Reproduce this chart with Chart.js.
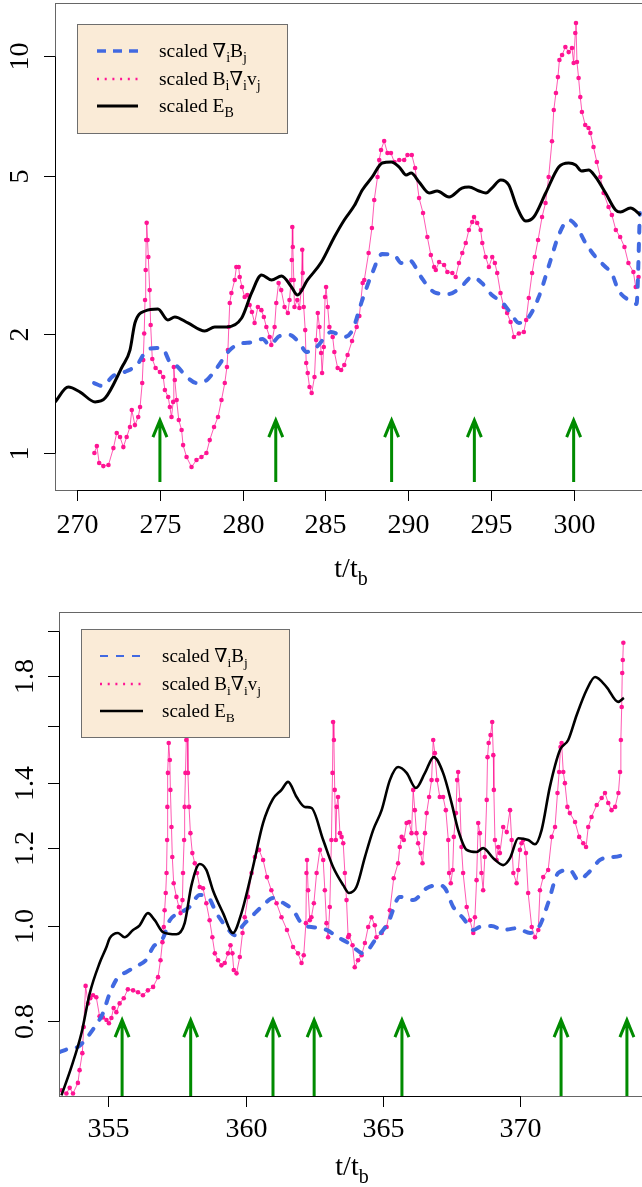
<!DOCTYPE html>
<html>
<head>
<meta charset="utf-8">
<script src="https://cdn.jsdelivr.net/npm/chart.js@4.4.0/dist/chart.umd.min.js"></script>
<style>
  body { margin: 0; background: #fff; width: 642px; height: 1187px; overflow: hidden; position: relative; }
  .panel { position: absolute; left: 0; width: 642px; }
</style>
</head>
<body>
<div class="panel" style="top:0;height:595px"><canvas id="topChart" width="642" height="595"></canvas></div>
<div class="panel" style="top:595px;height:592px"><canvas id="bottomChart" width="642" height="592"></canvas></div>
<script>
// ---- top panel data (t/t_b, scaled quantities, log axis) ----
const topXTicks = [270, 275, 280, 285, 290, 295, 300];
const topYTicks = [1, 2, 5, 10];
const topYLabels = ['1', '2', '5', '10'];
const topArrowTimes = [275, 282, 289, 294, 300];
const topArrowBase = 0.845;
const topArrowTip = 1.21;

const tTopEB = [268.67,269.46,270.18,271.08,271.69,272.71,273.19,273.49,274.10,274.88,275.48,275.90,276.69,277.71,278.31,279.04,279.94,280.54,281.14,281.75,282.35,282.95,283.31,283.92,284.76,285.54,286.14,286.75,287.23,287.83,288.43,288.98,289.46,289.88,290.18,290.66,291.27,291.75,292.47,293.25,293.67,294.28,294.70,295.06,295.60,296.08,296.57,297.11,297.59,298.31,299.10,299.70,300.12,300.48,300.90,301.33,301.93,302.53,302.83,303.43,304.04];
const topEB = [1.345,1.466,1.424,1.345,1.375,1.647,1.817,2.126,2.279,2.305,2.163,2.201,2.126,2.029,2.077,2.077,2.188,2.53,2.808,2.728,2.792,2.619,2.50,2.728,3.027,3.50,3.864,4.2,4.597,4.958,5.377,5.408,5.253,5.014,5.073,4.815,4.518,4.571,4.414,4.650,4.677,4.571,4.518,4.650,4.872,4.733,4.166,3.84,3.93,4.518,5.253,5.377,5.315,5.132,5.163,4.958,4.518,4.094,4.046,4.14,3.977];

const tTopGrad = [271.02,271.51,272.17,273.01,273.61,274.22,274.82,275.18,275.60,276.02,276.63,277.23,277.83,278.43,279.22,279.82,280.60,281.20,281.63,282.23,282.83,283.43,283.86,284.46,285.36,286.14,286.63,287.23,287.83,288.43,289.16,289.58,290.06,290.78,291.27,291.69,292.47,293.19,293.86,294.46,295.06,295.66,296.20,296.69,297.29,297.89,298.61,299.10,299.70,300.12,300.72,301.33,301.93,302.29,302.71,303.31,303.80,304.0];
const topGrad = [1.501,1.475,1.563,1.609,1.666,1.817,1.839,1.828,1.695,1.656,1.554,1.501,1.527,1.637,1.817,1.882,1.904,1.937,1.871,1.971,1.983,1.893,1.797,1.849,2.018,1.96,2.04,2.43,2.841,3.171,3.153,3.01,3.063,2.776,2.604,2.53,2.515,2.619,2.776,2.68,2.50,2.401,2.252,2.126,2.201,2.471,3.063,3.541,3.864,3.752,3.381,3.117,2.941,2.841,2.57,2.43,2.373,4.023];

const tTopBgv = [
  271.04,271.19,271.33,271.58,271.89,272.19,272.39,272.59,272.79,272.99,
  273.19,273.30,273.49,273.69,273.80,273.93,273.99,274.05,274.10,274.14,
  274.17,274.20,274.25,274.30,274.38,274.44,274.54,274.74,275.00,275.20,
  275.30,275.50,275.60,275.70,275.80,275.84,275.90,276.01,276.14,276.31,
  276.40,276.61,276.91,277.21,277.51,277.81,278.01,278.27,278.51,278.72,
  278.92,279.05,279.11,279.16,279.22,279.32,279.52,279.62,279.76,279.82,
  279.96,280.12,280.28,280.42,280.56,280.72,280.92,281.13,281.28,281.43,
  281.63,281.73,281.93,282.03,282.17,282.33,282.53,282.73,282.83,282.93,
  282.97,283.00,283.03,283.09,283.13,283.30,283.43,283.54,283.60,283.63,
  283.69,283.78,283.84,283.93,284.04,284.17,284.34,284.44,284.54,284.64,
  284.74,284.80,284.90,284.98,285.04,285.14,285.24,285.44,285.54,285.74,
  285.95,286.14,286.34,286.61,286.89,287.05,287.25,287.35,287.61,287.81,
  287.95,288.15,288.25,288.36,288.55,288.75,288.96,289.16,289.46,289.76,
  289.96,290.22,290.42,290.66,290.90,291.16,291.37,291.57,291.67,291.87,
  292.17,292.37,292.67,292.87,293.07,293.27,293.48,293.67,293.87,293.98,
  294.17,294.38,294.48,294.68,294.88,295.08,295.24,295.38,295.58,295.78,
  295.98,296.19,296.39,296.69,296.99,297.13,297.29,297.49,297.65,297.85,
  298.09,298.30,298.49,298.69,298.80,298.93,299.05,299.14,299.30,299.50,
  299.70,299.90,300.00,300.10,300.14,300.20,300.30,300.40,300.50,300.70,
  300.90,301.01,301.20,301.40,301.61,301.81,302.11,302.31,302.55,302.81,
  303.07,303.31,303.61,303.75,303.92];
const topBgv = [
  1.00,1.041,0.944,0.927,0.933,1.029,1.123,1.097,1.035,1.097,
  1.163,1.283,1.176,1.232,1.306,1.501,1.715,2.0,2.429,2.891,
  3.44,3.80,3.44,3.117,2.573,2.101,1.725,1.637,1.60,1.554,
  1.441,1.384,1.306,1.232,1.345,1.647,1.527,1.36,1.211,1.143,
  1.047,0.977,0.922,0.960,0.977,1.0,1.078,1.163,1.232,1.36,
  1.501,1.647,1.817,2.077,2.387,2.53,2.728,2.941,2.941,2.776,
  2.619,2.471,2.50,2.36,2.266,2.126,2.332,2.29,2.201,2.077,
  1.96,1.871,2.077,2.387,2.68,2.573,2.332,2.252,2.429,2.728,
  3.063,3.71,3.304,2.728,2.332,2.429,2.318,2.573,3.25,2.841,
  2.332,2.04,1.686,1.59,1.466,1.416,1.554,1.926,2.252,2.077,
  1.786,1.59,1.849,2.471,2.619,2.332,2.077,1.96,1.797,1.637,
  1.618,1.666,1.766,1.915,2.077,2.214,2.68,2.728,3.19,3.688,
  4.339,4.958,5.47,5.8,6.108,5.698,5.698,5.408,5.47,5.47,
  5.631,5.631,5.224,4.389,4.023,3.50,3.153,2.941,2.891,3.027,
  2.975,2.857,2.841,2.776,3.01,3.19,3.381,3.645,3.819,3.93,
  3.796,3.645,3.381,3.117,2.941,3.117,3.01,2.841,2.53,2.332,
  2.252,2.138,1.96,2.0,2.018,2.163,2.457,2.841,3.117,3.44,
  3.93,4.264,4.958,6.1,7.31,8.07,8.85,9.77,10.06,10.54,
  10.23,10.48,9.60,11.43,12.11,9.66,8.80,7.88,7.23,6.70,
  6.586,6.40,5.90,5.408,4.958,4.518,4.166,3.977,3.645,3.50,
  3.304,3.01,2.857,2.619,2.776];

// ---- bottom panel data ----
const bottomXTicks = [355, 360, 365, 370];
const bottomYTicks = [0.8, 1.0, 1.2, 1.4, 1.6, 1.8, 2.0];
const bottomYLabels = ['0.8', '1.0', '1.2', '1.4', '', '1.8', ''];
const bottomArrowTimes = [355.5, 358.0, 361.0, 362.5, 365.7, 371.5, 373.9];
const bottomArrowBase = 0.671;
const bottomArrowTip = 0.802;

const tBotEB = [353.29,353.65,354.02,354.32,354.68,354.93,355.05,355.35,355.59,355.90,356.14,356.44,356.69,356.99,357.48,357.78,358.03,358.33,358.57,358.81,359.18,359.54,359.85,360.27,360.64,361.0,361.31,361.55,361.86,362.16,362.40,362.83,363.19,363.56,363.77,364.04,364.35,364.65,364.96,365.26,365.56,365.87,366.21,366.54,366.86,367.20,367.51,367.75,368.06,368.42,368.66,369.03,369.39,369.64,369.94,370.30,370.55,370.79,371.09,371.46,371.76,372.07,372.43,372.74,373.16,373.58,373.79];
const botEB = [0.672,0.718,0.778,0.854,0.917,0.952,0.972,0.984,0.974,0.991,1.002,1.031,1.014,0.986,0.981,1.007,1.101,1.157,1.141,1.088,1.031,0.984,1.031,1.149,1.274,1.348,1.377,1.403,1.354,1.323,1.32,1.224,1.149,1.101,1.081,1.096,1.176,1.253,1.313,1.409,1.453,1.433,1.383,1.433,1.487,1.433,1.335,1.253,1.196,1.190,1.201,1.173,1.154,1.173,1.229,1.224,1.212,1.253,1.386,1.512,1.548,1.642,1.741,1.795,1.753,1.693,1.709];

const tBotGrad = [353.22,353.65,353.89,354.14,354.50,354.80,355.05,355.35,355.66,356.02,356.39,356.63,356.99,357.24,357.60,357.96,358.33,358.63,358.94,359.30,359.61,359.91,360.27,360.64,361.0,361.37,361.73,362.10,362.40,362.95,363.37,363.74,363.92,364.29,364.77,365.20,365.62,366.11,366.60,367.02,367.27,367.57,367.93,368.30,368.54,368.97,369.39,369.88,370.37,370.73,371.03,371.40,371.82,372.13,372.49,372.92,373.28,373.71,373.79];
const botGrad = [0.744,0.751,0.753,0.765,0.789,0.815,0.854,0.887,0.898,0.910,0.925,0.952,0.972,1.014,1.031,1.046,1.076,1.071,1.031,0.998,0.979,1.002,1.026,1.05,1.068,1.056,1.038,1.002,0.998,0.991,0.974,0.961,0.952,0.938,0.972,1.009,1.071,1.063,1.093,1.101,1.093,1.046,1.019,0.991,0.998,1.0,0.991,0.995,0.984,1.002,1.056,1.133,1.141,1.114,1.133,1.168,1.176,1.181,1.201];

const tBotBgv = [
  353.29,353.47,353.59,353.71,353.89,353.95,354.05,354.10,354.17,354.26,
  354.34,354.44,354.56,354.68,354.80,354.93,355.02,355.11,355.19,355.29,
  355.41,355.56,355.71,355.90,356.08,356.26,356.44,356.63,356.81,356.90,
  356.97,357.02,357.05,357.09,357.12,357.14,357.15,357.17,357.20,357.24,
  357.26,357.30,357.33,357.38,357.48,357.57,357.63,357.70,357.72,357.76,
  357.78,357.81,357.84,357.87,357.90,357.94,357.99,358.06,358.15,358.23,
  358.33,358.45,358.57,358.69,358.79,358.88,359.00,359.12,359.24,359.36,
  359.45,359.52,359.57,359.67,359.79,359.89,359.97,360.09,360.22,360.34,
  360.49,360.64,360.78,360.94,361.13,361.31,361.51,361.73,361.91,362.04,
  362.12,362.20,362.22,362.24,362.28,362.34,362.40,362.49,362.59,362.71,
  362.83,362.89,362.95,363.01,363.07,363.13,363.17,363.19,363.22,363.25,
  363.29,363.32,363.37,363.44,363.50,363.56,363.62,363.68,363.74,363.77,
  363.90,363.98,364.10,364.23,364.35,364.47,364.59,364.71,364.77,364.96,
  365.14,365.26,365.40,365.56,365.62,365.69,365.77,365.87,365.96,366.05,
  366.11,366.17,366.23,366.29,366.38,366.45,366.54,366.60,366.69,366.78,
  366.84,366.90,366.98,367.08,367.20,367.30,367.39,367.42,367.48,367.55,
  367.59,367.67,367.71,367.75,367.81,367.87,367.93,368.06,368.18,368.30,
  368.36,368.42,368.48,368.54,368.60,368.66,368.72,368.79,368.82,368.86,
  368.93,368.99,369.03,369.05,369.09,369.15,369.21,369.27,369.39,369.52,
  369.64,369.70,369.76,369.88,369.94,370.00,370.06,370.12,370.22,370.30,
  370.43,370.55,370.67,370.73,370.85,371.03,371.16,371.28,371.37,371.43,
  371.48,371.52,371.58,371.64,371.73,371.82,372.01,372.16,372.31,372.41,
  372.49,372.61,372.80,372.98,373.10,373.22,373.34,373.47,373.59,373.65,
  373.68,373.71,373.73,373.75,373.77];
const botBgv = [
  0.680,0.675,0.684,0.675,0.692,0.713,0.742,0.789,0.869,0.834,
  0.844,0.850,0.846,0.809,0.807,0.802,0.796,0.806,0.825,0.817,
  0.834,0.844,0.862,0.860,0.856,0.850,0.860,0.867,0.887,0.923,
  0.963,0.998,1.038,1.081,1.133,1.224,1.323,1.433,1.537,1.477,
  1.377,1.262,1.176,1.106,1.071,1.046,1.031,1.063,1.133,1.224,
  1.323,1.433,1.548,1.63,1.433,1.323,1.244,1.187,1.159,1.133,
  1.096,1.093,1.055,1.014,0.974,0.938,0.923,0.912,0.917,0.938,
  0.956,0.938,0.902,0.895,0.930,0.984,1.021,1.071,1.133,1.176,
  1.196,1.168,1.122,1.088,1.055,1.021,0.991,0.952,0.938,0.917,
  0.934,1.007,1.133,1.168,1.088,1.014,1.021,1.055,1.133,1.196,
  1.168,1.088,1.007,0.974,1.046,1.224,1.433,1.615,1.548,1.377,
  1.224,1.323,1.354,1.244,1.233,1.215,1.133,1.063,0.974,0.979,
  0.956,0.908,0.923,0.934,0.961,0.998,1.021,1.002,0.974,0.984,
  0.998,1.038,1.119,1.159,1.204,1.233,1.224,1.274,1.277,1.244,
  1.377,1.313,1.244,1.215,1.187,1.159,1.244,1.304,1.354,1.409,
  1.548,1.501,1.409,1.354,1.354,1.313,1.224,1.133,1.106,1.141,
  1.233,1.304,1.409,1.436,1.345,1.204,1.133,1.046,1.014,0.984,
  1.021,1.114,1.274,1.244,1.133,1.088,1.176,1.345,1.487,1.537,
  1.566,1.615,1.494,1.377,1.224,1.168,1.204,1.187,1.262,1.247,
  1.313,1.224,1.133,1.106,1.141,1.196,1.215,1.224,1.187,1.081,
  0.998,0.974,0.991,1.088,1.122,1.141,1.233,1.262,1.367,1.436,
  1.523,1.537,1.436,1.399,1.323,1.304,1.277,1.233,1.215,1.204,
  1.262,1.292,1.329,1.351,1.367,1.335,1.313,1.323,1.367,1.436,
  1.548,1.673,1.812,1.868,1.945];

// legend entries: [text, isSubscript]
const legendRows = [
  [['scaled \u2207', 0], ['i', 1], ['B', 0], ['j', 1]],
  [['scaled B', 0], ['i', 1], ['\u2207', 0], ['i', 1], ['v', 0], ['j', 1]],
  [['scaled E', 0], ['B', 1]],
];

const SERIF = '"Liberation Serif", "Times New Roman", "DejaVu Serif", serif';
const BLUE = '#4169e1';
const PINK = '#ff1493';
const GREEN = '#008b00';

const pairs = (xs, ys) => xs.slice(0, Math.min(xs.length, ys.length)).map((x, i) => ({ x, y: ys[i] }));

function drawRich(ctx, parts, x, y, size, subSize) {
  for (const [txt, sub] of parts) {
    ctx.font = (sub ? subSize : size) + 'px ' + SERIF;
    ctx.fillText(txt, x, sub ? y + Math.round(size * 0.28) : y);
    x += ctx.measureText(txt).width;
  }
}

const framePlugin = (cfg) => ({
  id: 'frame',
  afterDatasetsDraw(chart) {
    const { ctx, chartArea: a, scales: { x, y } } = chart;
    ctx.save();

    // event arrows
    ctx.strokeStyle = GREEN;
    ctx.lineWidth = 3;
    ctx.lineCap = 'butt';
    cfg.arrows.forEach(t => {
      const px = x.getPixelForValue(t);
      const y0 = y.getPixelForValue(cfg.arrowFrom);
      const y1 = y.getPixelForValue(cfg.arrowTo);
      ctx.beginPath();
      ctx.moveTo(px, y0); ctx.lineTo(px, y1);
      ctx.moveTo(px - 7, y1 + 17); ctx.lineTo(px, y1); ctx.lineTo(px + 7, y1 + 17);
      ctx.stroke();
    });

    // legend
    const L = cfg.legend;
    ctx.fillStyle = '#faebd7';
    ctx.fillRect(L.x, L.y, L.w, L.h);
    ctx.strokeStyle = '#6e6e6e';
    ctx.lineWidth = 1;
    ctx.strokeRect(L.x + 0.5, L.y + 0.5, L.w, L.h);
    const styles = [
      { color: BLUE, width: L.blueW, dash: L.blueDash },
      { color: PINK, width: 2.4, dash: [2, 5.7] },
      { color: '#000', width: L.blackW, dash: [] },
    ];
    styles.forEach((s, i) => {
      ctx.beginPath();
      ctx.strokeStyle = s.color;
      ctx.lineWidth = s.width;
      ctx.setLineDash(s.dash);
      ctx.moveTo(L.sx1, L.rows[i]); ctx.lineTo(L.sx2, L.rows[i]);
      ctx.stroke();
    });
    ctx.setLineDash([]);
    ctx.fillStyle = '#000';
    ctx.textAlign = 'left';
    ctx.textBaseline = 'alphabetic';
    legendRows.forEach((parts, i) => drawRich(ctx, parts, L.tx, L.rows[i] + 6, L.font, L.sub));

    // plot box
    ctx.strokeStyle = '#666';
    ctx.lineWidth = 1;
    ctx.strokeRect(a.left + 0.5, a.top + 0.5, a.right - a.left, a.bottom - a.top);

    // axes, ticks, labels
    ctx.strokeStyle = '#000';
    ctx.fillStyle = '#000';
    ctx.font = '28px ' + SERIF;
    const xs = cfg.xTicks.map(v => Math.round(x.getPixelForValue(v)) + 0.5);
    const ys = cfg.yTicks.map(v => Math.round(y.getPixelForValue(v)) + 0.5);
    ctx.beginPath();
    ctx.moveTo(xs[0], a.bottom + 0.5); ctx.lineTo(xs[xs.length - 1], a.bottom + 0.5);
    ctx.moveTo(a.left + 0.5, ys[0]); ctx.lineTo(a.left + 0.5, ys[ys.length - 1]);
    xs.forEach(px => { ctx.moveTo(px, a.bottom); ctx.lineTo(px, a.bottom + 11); });
    ys.forEach(py => { ctx.moveTo(a.left, py); ctx.lineTo(a.left - 11, py); });
    ctx.stroke();
    ctx.textAlign = 'center';
    cfg.xTicks.forEach((v, i) => ctx.fillText(String(v), xs[i], cfg.xLabelY));
    cfg.yTickLabels.forEach((lab, i) => {
      if (!lab) return;
      ctx.save();
      ctx.translate(cfg.yLabelX, ys[i]);
      ctx.rotate(-Math.PI / 2);
      ctx.fillText(lab, 0, 0);
      ctx.restore();
    });

    // axis title t/t_b
    ctx.font = '28px ' + SERIF;
    const w1 = ctx.measureText('t/t').width;
    ctx.font = '20px ' + SERIF;
    const w2 = ctx.measureText('b').width;
    ctx.textAlign = 'left';
    drawRich(ctx, [['t/t', 0], ['b', 1]], cfg.titleX - (w1 + w2) / 2, cfg.titleY, 28, 20);

    ctx.restore();
  }
});

function makeChart(cfg) {
  return new Chart(document.getElementById(cfg.canvas), {
    type: 'line',
    data: {
      datasets: [
        { label: 'scaled E_B', data: pairs(cfg.tEB, cfg.eb), borderColor: '#000', borderWidth: cfg.blackW,
          pointRadius: 0, cubicInterpolationMode: 'monotone', order: 0 },
        { label: 'scaled grad B', data: pairs(cfg.tGrad, cfg.grad), borderColor: BLUE, borderWidth: 4,
          borderDash: [7, 11], borderCapStyle: 'round', pointRadius: 0, cubicInterpolationMode: 'monotone', order: 1 },
        { label: 'scaled B grad v', data: pairs(cfg.tBgv, cfg.bgv), borderColor: 'rgba(255,20,147,0.7)', borderWidth: 1,
          pointRadius: 2.3, pointBackgroundColor: PINK, pointBorderWidth: 0, tension: 0, order: 2 },
      ]
    },
    options: {
      responsive: false,
      animation: false,
      devicePixelRatio: 1,
      events: [],
      layout: { padding: cfg.padding, autoPadding: false },
      plugins: { legend: { display: false }, tooltip: { enabled: false } },
      scales: {
        x: { type: 'linear', min: cfg.xMin, max: cfg.xMax, bounds: 'data', display: false },
        y: { type: 'logarithmic', min: cfg.yMin, max: cfg.yMax, bounds: 'data', display: false },
      }
    },
    plugins: [framePlugin(cfg)]
  });
}

makeChart({
  canvas: 'topChart', padding: { left: 55, top: 3, right: 0, bottom: 105 },
  xMin: 268.66, xMax: 304.13, yMin: 0.807, yMax: 13.6,
  tEB: tTopEB, eb: topEB, tGrad: tTopGrad, grad: topGrad, tBgv: tTopBgv, bgv: topBgv,
  blackW: 3,
  xTicks: topXTicks, yTicks: topYTicks, yTickLabels: topYLabels,
  arrows: topArrowTimes, arrowFrom: topArrowBase, arrowTo: topArrowTip,
  xLabelY: 533, yLabelX: 28, titleX: 351, titleY: 577,
  legend: { x: 77, y: 24, w: 210, h: 109, sx1: 97, sx2: 138, tx: 159, rows: [51, 79, 106],
            font: 19.5, sub: 14, blueW: 3.5, blueDash: [9, 7], blackW: 3 }
});

makeChart({
  canvas: 'bottomChart', padding: { left: 59, top: 17, right: 0, bottom: 91 },
  xMin: 353.2, xMax: 374.45, yMin: 0.671, yMax: 2.091,
  tEB: tBotEB, eb: botEB, tGrad: tBotGrad, grad: botGrad, tBgv: tBotBgv, bgv: botBgv,
  blackW: 2.6,
  xTicks: bottomXTicks, yTicks: bottomYTicks, yTickLabels: bottomYLabels,
  arrows: bottomArrowTimes, arrowFrom: bottomArrowBase, arrowTo: bottomArrowTip,
  xLabelY: 542, yLabelX: 33, titleX: 352, titleY: 580,
  legend: { x: 81, y: 34, w: 208, h: 108, sx1: 100, sx2: 143, tx: 162, rows: [61, 89, 116],
            font: 19, sub: 13.5, blueW: 2, blueDash: [8, 8], blackW: 2.5 }
});
</script>
</body>
</html>
